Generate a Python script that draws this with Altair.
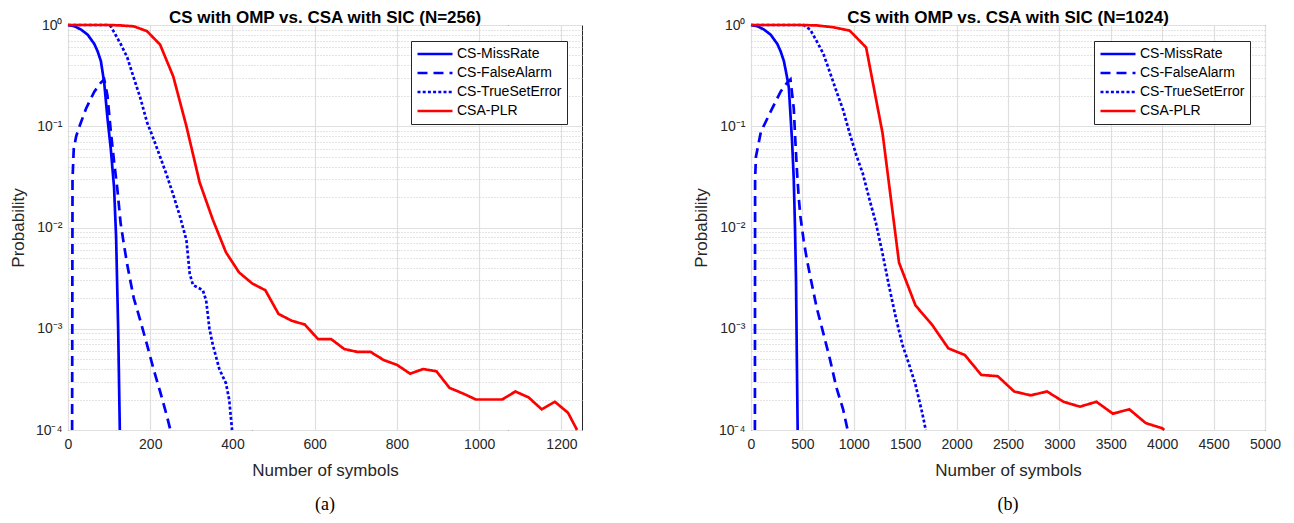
import altair as alt
import pandas as pd

SERIES = ["CS-MissRate", "CS-FalseAlarm", "CS-TrueSetError", "CSA-PLR"]
TITLES = ["CS with OMP vs. CSA with SIC (N=256)", "CS with OMP vs. CSA with SIC (N=1024)"]
CAPTIONS = ["(a)", "(b)"]
X_TICKS_A = [0, 200, 400, 600, 800, 1000, 1200]
X_TICKS_B = [0, 500, 1000, 1500, 2000, 2500, 3000, 3500, 4000, 4500, 5000]

# ---- panel (a), N=256 ----
x_miss_a = [0, 16, 32, 48, 64, 72, 80, 88, 96, 104, 112, 117, 122, 126]
p_miss_a = [1.0, 0.97, 0.9, 0.8, 0.65, 0.55, 0.44, 0.27, 0.12, 0.06, 0.025, 0.008, 0.001, 1e-4]

x_fa_a = [10, 11, 14, 20, 28, 44, 64, 80, 88, 96, 104, 112, 120, 128, 136, 144, 160, 176, 192, 208, 224, 240, 249]
p_fa_a = [1e-4, 0.03, 0.06, 0.08, 0.1, 0.15, 0.22, 0.27, 0.29, 0.2, 0.09, 0.045, 0.024, 0.011, 0.0068, 0.0043,
          0.002, 0.0012, 0.0007, 0.0004, 0.00024, 0.00014, 1e-4]

x_ts_a = [0, 96, 104, 112, 128, 144, 160, 176, 192, 208, 224, 240, 256, 272, 288, 296, 304, 320, 328, 336, 344,
          352, 368, 384, 392, 399]
p_ts_a = [1.0, 1.0, 0.97, 0.85, 0.65, 0.48, 0.3, 0.19, 0.11, 0.075, 0.05, 0.033, 0.021, 0.013, 0.0075, 0.0035,
          0.0027, 0.0025, 0.0024, 0.0019, 0.001, 0.0007, 0.0004, 0.00029, 0.0002, 1e-4]

x_plr_a = [0, 32, 64, 96, 128, 160, 192, 224, 256, 288, 320, 352, 384, 416, 448, 480, 512, 544, 576, 608, 640,
           672, 704, 736, 768, 800, 832, 864, 896, 928, 960, 992, 1024, 1056, 1088, 1120, 1152, 1184, 1216, 1238]
p_plr_a = [1.0, 1.0, 1.0, 1.0, 0.99, 0.97, 0.87, 0.64, 0.31, 0.1, 0.028, 0.012, 0.0057, 0.0036, 0.0028, 0.0024,
           0.0014, 0.0012, 0.0011, 0.00079, 0.00079, 0.00063, 0.00059, 0.00059, 0.00049, 0.00044, 0.00036, 0.0004,
           0.00038, 0.00026, 0.00023, 0.0002, 0.0002, 0.0002, 0.00024, 0.00021, 0.00016, 0.00019, 0.000148, 1e-4]

# ---- panel (b), N=1024 ----
x_miss_b = [0, 64, 128, 192, 256, 288, 320, 352, 368, 384, 400, 416, 428, 438, 446, 454]
p_miss_b = [1.0, 0.97, 0.9, 0.8, 0.65, 0.55, 0.44, 0.3, 0.24, 0.13, 0.07, 0.03, 0.01, 0.003, 0.0005, 1e-4]

x_fa_b = [38, 40, 48, 96, 192, 288, 352, 384, 416, 432, 448, 464, 480, 512, 544, 576, 640, 704, 768, 832, 896, 940]
p_fa_b = [1e-4, 0.03, 0.05, 0.088, 0.14, 0.22, 0.27, 0.29, 0.15, 0.07, 0.035, 0.02, 0.013, 0.0075, 0.0048,
          0.0033, 0.0016, 0.0009, 0.0005, 0.00026, 0.00016, 1e-4]

x_ts_b = [0, 512, 576, 640, 704, 768, 832, 896, 960, 1024, 1088, 1152, 1216, 1280, 1344, 1408, 1472, 1536, 1600,
          1664, 1700]
p_ts_b = [1.0, 1.0, 0.9, 0.69, 0.52, 0.34, 0.22, 0.145, 0.085, 0.052, 0.034, 0.019, 0.011, 0.0055, 0.0026,
          0.0013, 0.0007, 0.00045, 0.00028, 0.00015, 1e-4]

x_plr_b = [0, 160, 320, 480, 640, 800, 960, 1120, 1280, 1440, 1600, 1760, 1920, 2080, 2240, 2400, 2560, 2720,
           2880, 3040, 3200, 3360, 3520, 3680, 3840, 4000, 4020]
p_plr_b = [1.0, 1.0, 1.0, 1.0, 0.99, 0.95, 0.88, 0.6, 0.085, 0.0045, 0.0017, 0.0011, 0.00064, 0.00055, 0.00035,
           0.00034, 0.00024, 0.00022, 0.00024, 0.00019, 0.00017, 0.00019, 0.000145, 0.00016, 0.000117, 0.000104, 1e-4]


def frame(xs, ps):
    rows = []
    for name, xv, pv in zip(SERIES, xs, ps):
        for i, (a, b) in enumerate(zip(xv, pv)):
            rows.append({"x": a, "p": b, "series": name, "i": i})
    return pd.DataFrame(rows)


df_a = frame([x_miss_a, x_fa_a, x_ts_a, x_plr_a], [p_miss_a, p_fa_a, p_ts_a, p_plr_a])
df_b = frame([x_miss_b, x_fa_b, x_ts_b, x_plr_b], [p_miss_b, p_fa_b, p_ts_b, p_plr_b])

FONT = "Liberation Sans"
AXIS_COLOR = "#262626"

y_values = []
for k in [-4, -3, -2, -1]:
    for m in range(1, 10):
        y_values.append(round(m * 10 ** k, 8))
y_values.append(1.0)

DECADE = "abs(log(datum.value)/LN10 - round(log(datum.value)/LN10)) < 0.001"
EXP = "round(log(datum.value)/LN10)"
label_expr = (
    f"{DECADE} ? ({EXP} == 0 ? '10⁰' : {EXP} == -1 ? '10⁻¹' : {EXP} == -2 ? '10⁻²' : "
    f"{EXP} == -3 ? '10⁻³' : '10⁻⁴') : ''"
)

legend_cfg = dict(
    title=None, orient="none", legendX=343, legendY=16,
    strokeColor=AXIS_COLOR, fillColor="white", padding=5,
    labelFont=FONT, labelFontSize=14, labelColor="#000000", labelOffset=3,
    symbolType="stroke", symbolSize=1225, symbolStrokeWidth=2.7,
    clipHeight=16, rowPadding=3.0, cornerRadius=0,
)


def panel(df, title, caption, xmax, xticks):
    lines = alt.Chart(df).mark_line(strokeWidth=2.7).encode(
        x=alt.X("x:Q", scale=alt.Scale(domain=[0, xmax], nice=False, zero=False),
                axis=alt.Axis(values=xticks, title="Number of symbols", labelFlush=False, format="d",
                              grid=True, gridColor="#dfdfdf", gridWidth=1.2, ticks=False,
                              domain=False, labelPadding=7, titlePadding=11)),
        y=alt.Y("p:Q", scale=alt.Scale(type="log", domain=[1e-4, 1], nice=False),
                axis=alt.Axis(values=y_values, title="Probability", labelExpr=label_expr,
                              labelOverlap=False, ticks=False, domain=False,
                              labelPadding=6, titlePadding=8, grid=True,
                              gridColor={"condition": {"test": DECADE, "value": "#dfdfdf"}, "value": "#c8c8c8"},
                              gridDash={"condition": {"test": DECADE, "value": [4, 0]}, "value": [1, 2]},
                              gridWidth={"condition": {"test": DECADE, "value": 1.2}, "value": 1})),
        color=alt.Color("series:N", scale=alt.Scale(domain=SERIES, range=["#0000ff", "#0000ff", "#0000ff", "#ff0000"]),
                        legend=alt.Legend(**legend_cfg)),
        strokeDash=alt.StrokeDash("series:N", scale=alt.Scale(domain=SERIES, range=[[1, 0], [10, 6], [3, 2.2], [1, 0]]),
                                  legend=alt.Legend(**legend_cfg)),
        order="i:Q",
    )
    cap = alt.Chart(pd.DataFrame({"t": [caption]})).mark_text(
        font="Liberation Serif", fontSize=18, color="#000000", baseline="middle", align="center"
    ).encode(x=alt.value(257), y=alt.value(480), text="t:N")
    return alt.layer(lines, cap).properties(
        width=514, height=405,
        title=alt.TitleParams(title, font=FONT, fontSize=17, fontWeight="bold", color="#000000",
                              anchor="middle", offset=-9),
    )


chart = alt.hconcat(
    panel(df_a, TITLES[0], CAPTIONS[0], 1250, X_TICKS_A),
    panel(df_b, TITLES[1], CAPTIONS[1], 5000, X_TICKS_B),
    spacing=108,
).resolve_scale(
    color="independent", strokeDash="independent"
).resolve_legend(
    color="independent", strokeDash="independent"
).properties(
    padding=0
).configure_view(
    stroke=AXIS_COLOR, strokeWidth=1
).configure_axis(
    labelFont=FONT, labelFontSize=14, labelColor=AXIS_COLOR,
    titleFont=FONT, titleFontSize=17, titleColor=AXIS_COLOR, titleFontWeight="normal",
)

chart.save("out.html", embed_options={"renderer": "svg", "actions": False})
